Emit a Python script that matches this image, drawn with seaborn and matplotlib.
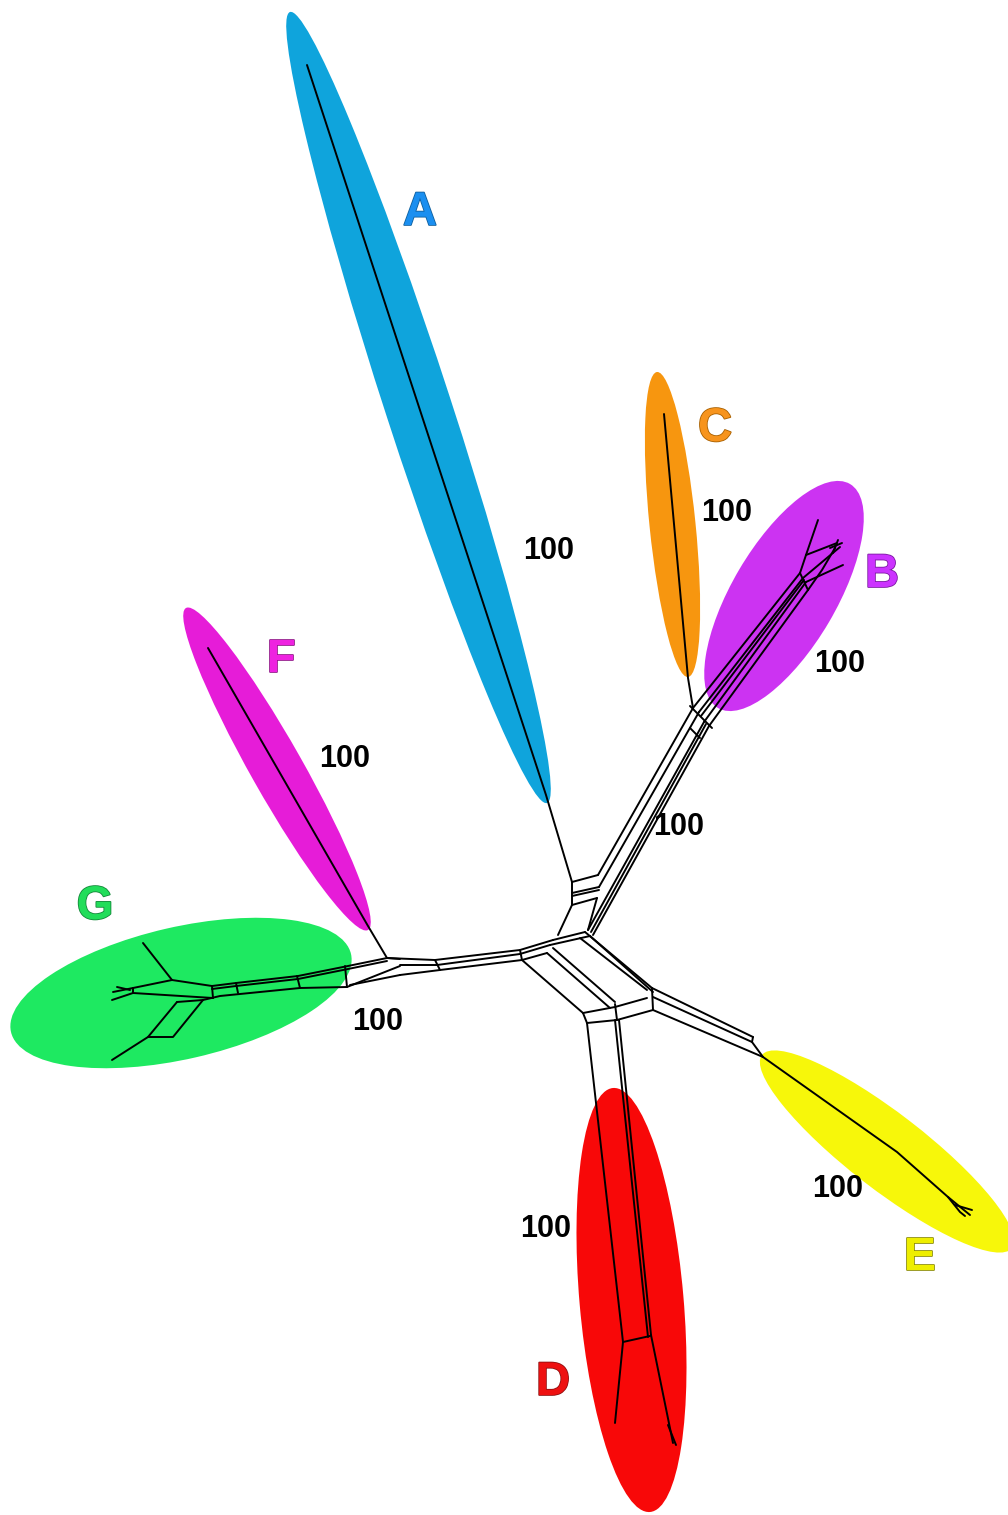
import numpy as np
import pandas as pd
import matplotlib
matplotlib.use("Agg")
import matplotlib.pyplot as plt
import matplotlib.patheffects as pe
from matplotlib.patches import Ellipse
import seaborn as sns

sns.set_style("white")
plt.rcParams['font.family'] = ['Liberation Sans', 'DejaVu Sans']

# clade ellipses: two tips (pixel coords, y down) and width
clades = ['A', 'C', 'B', 'F', 'G', 'D', 'E']
tip1 = [(290, 12), (657, 372), (850, 484), (186, 608), (11, 1032), (613, 1088), (762, 1055)]
tip2 = [(547, 803), (688, 677), (718, 708), (368, 930), (351, 954), (650, 1512), (1012, 1248)]
widths = [66, 46, 104, 52, 132, 104, 76]
fill_colors = ['#0fa4dc', '#f7960f', '#cc33f2', '#e61cd8', '#1ee961', '#f80808', '#f7f70a']

label_pos = [(420, 213), (715, 429), (882, 575), (281, 660), (95, 907), (553, 1383), (920, 1258)]
label_colors = ['#1b8ff0', '#f7941d', '#cc33ff', '#ee22e0', '#22dd5a', '#ee1111', '#eeee00']
label_edges = ['#10609e', '#a86000', '#7a1aa0', '#901088', '#14883a', '#901010', '#8a8a00']

boot_text = ['100'] * 8
boot_pos = [(549, 551), (727, 513), (840, 664), (345, 759), (679, 827), (378, 1022), (838, 1189), (546, 1229)]

# network edges, as polylines
net_A = [
    [(307, 65), (546, 795), (572, 882)],
    [(572, 882), (598, 875)],
    [(572, 893), (599, 887)],
    [(572, 896), (599, 890)],
    [(572, 905), (597, 898)],
    [(572, 882), (572, 905), (558, 935)],
    [(597, 898), (588, 930)],
]
net_BC = [
    [(598, 875), (693, 708)],
    [(599, 887), (699, 712)],
    [(588, 930), (704, 722)],
    [(591, 932), (706, 724)],
    [(593, 935), (709, 726)],
    [(690, 706), (712, 728)],
    [(690, 728), (700, 738)],
    [(664, 414), (688, 678), (693, 708)],
    [(693, 708), (800, 573)],
    [(699, 712), (803, 578)],
    [(701, 716), (804, 580)],
    [(704, 722), (806, 582)],
    [(709, 726), (808, 590)],
    [(800, 573), (806, 555), (818, 520)],
    [(806, 555), (837, 543)],
    [(803, 578), (840, 547)],
    [(806, 582), (843, 565)],
    [(808, 590), (822, 570), (835, 548)],
    [(800, 573), (808, 590)],
    [(830, 548), (842, 543)],
    [(833, 553), (838, 540)],
]
net_FG = [
    [(553, 940), (585, 932)],
    [(550, 945), (590, 936)],
    [(553, 940), (520, 950), (435, 960), (387, 958)],
    [(550, 945), (520, 954), (437, 965), (400, 965)],
    [(547, 953), (522, 960), (440, 970), (400, 975)],
    [(520, 950), (522, 960)],
    [(435, 960), (440, 970)],
    [(208, 648), (368, 926), (387, 958)],
    [(400, 959), (387, 958), (348, 966), (298, 976), (236, 983), (212, 986), (172, 980)],
    [(387, 961), (348, 969), (298, 979), (236, 986), (212, 989)],
    [(400, 966), (347, 987), (300, 988), (220, 996), (203, 1000)],
    [(400, 975), (350, 985)],
    [(345, 966), (347, 987)],
    [(297, 976), (300, 988)],
    [(236, 983), (238, 993)],
    [(212, 986), (213, 998)],
    [(172, 980), (143, 943)],
    [(172, 980), (133, 988), (113, 992)],
    [(213, 998), (133, 993), (112, 1000)],
    [(133, 988), (133, 993)],
    [(177, 1002), (148, 1037), (112, 1060)],
    [(203, 1000), (173, 1037), (148, 1037)],
    [(177, 1002), (203, 1000)],
    [(130, 990), (117, 987)],
]
net_D = [
    [(522, 960), (583, 1013)],
    [(547, 953), (610, 1008)],
    [(553, 948), (615, 1002)],
    [(583, 1013), (615, 1007), (647, 998)],
    [(587, 1023), (617, 1020), (653, 1010)],
    [(583, 1013), (587, 1023)],
    [(615, 1004), (617, 1020)],
    [(587, 1023), (623, 1342)],
    [(615, 1020), (648, 1337)],
    [(619, 1020), (651, 1335)],
    [(623, 1342), (650, 1336)],
    [(623, 1342), (615, 1423)],
    [(651, 1335), (673, 1443)],
    [(668, 1425), (676, 1445)],
]
net_E = [
    [(580, 938), (647, 990)],
    [(585, 932), (652, 988)],
    [(590, 936), (653, 992)],
    [(652, 988), (753, 1037)],
    [(653, 997), (752, 1042)],
    [(653, 1010), (763, 1057)],
    [(652, 988), (653, 1010)],
    [(753, 1037), (752, 1042), (763, 1057)],
    [(763, 1057), (897, 1152), (948, 1197), (970, 1215)],
    [(948, 1197), (960, 1212), (965, 1216)],
    [(955, 1205), (972, 1210)],
]

rows = []
uid = 0
for group in [net_A, net_BC, net_FG, net_D, net_E]:
    for line in group:
        for order, (x, y) in enumerate(line):
            rows.append({'edge': uid, 'order': order, 'x': x, 'y': y})
        uid += 1
edges = pd.DataFrame(rows)

fig = plt.figure(figsize=(10.08, 15.15), dpi=100)
ax = fig.add_axes([0, 0, 1, 1])

for p1, p2, w, c in zip(tip1, tip2, widths, fill_colors):
    cx, cy = (p1[0] + p2[0]) / 2, (p1[1] + p2[1]) / 2
    length = np.hypot(p2[0] - p1[0], p2[1] - p1[1])
    ang = np.degrees(np.arctan2(p2[1] - p1[1], p2[0] - p1[0]))
    ax.add_patch(Ellipse((cx, cy), length, w, angle=ang, facecolor=c,
                         edgecolor='none', zorder=1))

sns.lineplot(data=edges, x='x', y='y', units='edge', estimator=None, sort=False,
             color='black', lw=1.4, ax=ax, zorder=2)

for name, (x, y), c, ec in zip(clades, label_pos, label_colors, label_edges):
    ax.text(x, y, name, color=c, fontsize=34, fontweight='bold', ha='center', va='center',
            path_effects=[pe.withStroke(linewidth=1.2, foreground=ec)], zorder=3)

for t, (x, y) in zip(boot_text, boot_pos):
    ax.text(x, y, t, color='black', fontsize=22, fontweight='bold', ha='center',
            va='center', zorder=3)

ax.set_xlim(0, 1008)
ax.set_ylim(1515, 0)
ax.axis('off')
fig.savefig('out.png', dpi=100, facecolor='white')
